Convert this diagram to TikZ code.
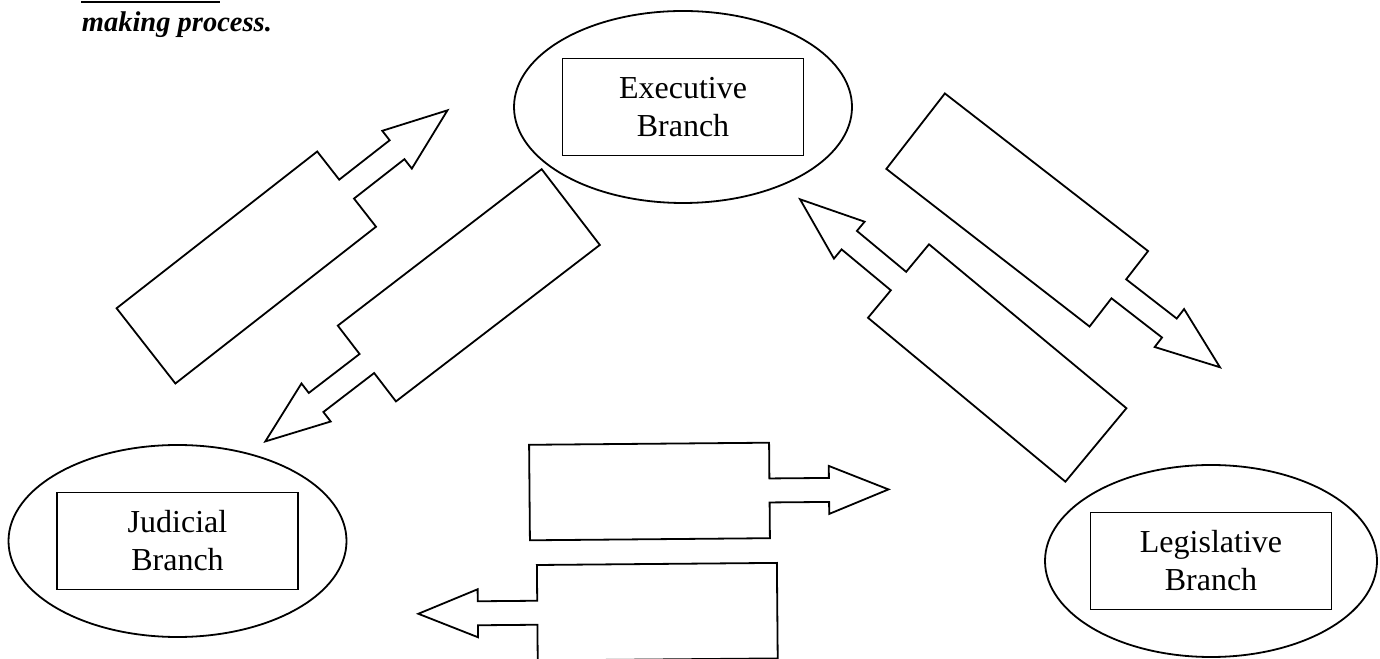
\documentclass[tikz,border=0pt]{standalone}
\usepackage{fontspec}
\setmainfont{Liberation Serif}
\usepackage{tikz}
\usetikzlibrary{shapes.geometric}

\begin{document}
\begin{tikzpicture}[x=0.5pt, y=0.5pt, line width=0.9pt,
  branch/.style={draw, ellipse, minimum width=169pt, minimum height=96pt, inner sep=0pt},
  name box/.style={draw, minimum width=120.5pt, minimum height=48.5pt, inner sep=0pt, align=center,
    font=\fontsize{16}{19}\selectfont},
  pics/arrowbox/.style 2 args={code={
    \draw (-#1,-47.75) -- (#1,-47.75) -- (#1,-12) -- ({#1+#2},-12) -- ({#1+#2},-24)
      -- ({#1+2*#2},0) -- ({#1+#2},24) -- ({#1+#2},12) -- (#1,12) -- (#1,47.75)
      -- (-#1,47.75) -- cycle;
  }}]
\useasboundingbox (0,0) rectangle (1380,658);
\clip (0,0) rectangle (1380,658);

% heading cut off at the top
\draw[line width=1pt] (81,656) -- (220,656);
\node (heading) [anchor=base west, inner sep=0pt, font=\fontsize{14.25}{17}\selectfont\bfseries\itshape]
  at (81,626.3) {making process.};

% the three branches
\node (exec) [branch] at (683,551) {};
\node (execbox) [name box] at (exec.center) {Executive\\Branch};
\node (judicial) [branch] at (177.5,117) {};
\node (judicialbox) [name box] at (judicial.center) {Judicial\\Branch};
\node (legis) [branch, minimum width=166pt] at (1211,97) {};
\node (legisbox) [name box] at (legis.center) {Legislative\\Branch};

% arrow boxes
\pic (jtoe) [rotate=38] at (246.3,390.5) {arrowbox={127.3}{64}};
\pic (etoj) [rotate=217.5] at (468.8,372.7) {arrowbox={128.5}{64}};
\pic (etol) [rotate=-37.8] at (1017.2,448) {arrowbox={128.6}{64}};
\pic (ltoe) [rotate=140.3] at (997.2,295) {arrowbox={128.3}{64}};
\pic (jtol) [rotate=0.5] at (649.5,166.5) {arrowbox={120}{59.5}};
\pic (ltoj) [rotate=180.5] at (657.3,46.3) {arrowbox={120}{59.5}};
\end{tikzpicture}
\end{document}
